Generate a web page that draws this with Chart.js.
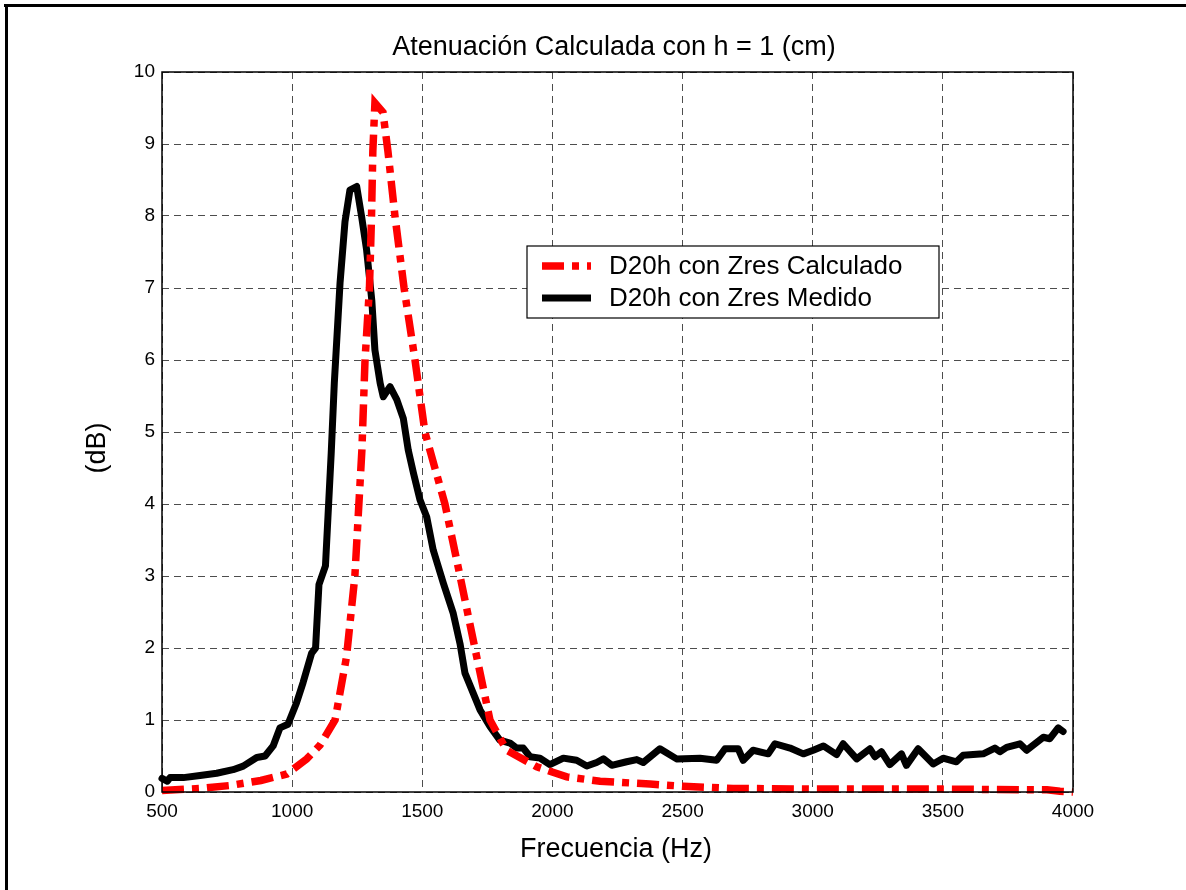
<!DOCTYPE html>
<html>
<head>
<meta charset="utf-8">
<script src="https://cdn.jsdelivr.net/npm/chart.js@4"></script>
<style>
html, body { margin: 0; padding: 0; background: #fff; }
</style>
</head>
<body>
<canvas id="myChart" width="1186" height="890"></canvas>
<script>
const chartTitle = "Atenuación Calculada con h = 1 (cm)";
const xTitle = "Frecuencia (Hz)";
const yTitle = "(dB)";
const seriesNames = ["D20h con Zres Calculado", "D20h con Zres Medido"];
const xTicks = [500, 1000, 1500, 2000, 2500, 3000, 3500, 4000];
const yTicks = [0, 1, 2, 3, 4, 5, 6, 7, 8, 9, 10];

// calculated attenuation
const freqCalc = [500, 650, 760, 880, 980, 1056, 1107, 1165, 1209, 1241, 1268, 1280, 1297, 1305, 1310, 1318, 1349, 1368, 1395, 1430, 1472, 1510, 1587, 1645, 1702, 1760, 1824, 1940, 2055, 2183, 2375, 2503, 2694, 3000, 3500, 3900, 3950, 4000];
const dbCalc = [0.02, 0.05, 0.09, 0.16, 0.25, 0.46, 0.65, 1.0, 1.88, 3.0, 4.75, 6.0, 7.0, 8.0, 8.9, 9.57, 9.44, 8.9, 8.0, 7.0, 6.0, 5.0, 4.0, 3.0, 2.0, 1.0, 0.58, 0.35, 0.21, 0.15, 0.11, 0.08, 0.05, 0.04, 0.04, 0.03, 0.01, 0.0];

// measured attenuation
const freqMed = [500, 520, 531, 582, 646, 710, 773, 812, 864, 896, 927, 953, 984, 1017, 1042, 1075, 1090, 1103, 1128, 1150, 1162, 1184, 1203, 1222, 1248, 1267, 1286, 1306, 1318, 1338, 1350, 1376, 1402, 1427, 1446, 1466, 1491, 1517, 1542, 1581, 1619, 1645, 1664, 1696, 1722, 1760, 1798, 1837, 1862, 1888, 1914, 1952, 1990, 2042, 2093, 2132, 2170, 2196, 2228, 2285, 2324, 2349, 2413, 2477, 2567, 2631, 2663, 2714, 2733, 2771, 2829, 2855, 2913, 2964, 3002, 3041, 3092, 3117, 3169, 3220, 3239, 3264, 3296, 3341, 3360, 3405, 3463, 3501, 3552, 3578, 3655, 3700, 3719, 3745, 3796, 3822, 3886, 3911, 3943, 3962];
const dbMed = [0.19, 0.15, 0.2, 0.2, 0.23, 0.26, 0.31, 0.36, 0.48, 0.5, 0.64, 0.89, 0.94, 1.24, 1.52, 1.93, 2.0, 2.88, 3.14, 4.7, 5.68, 7.07, 7.92, 8.36, 8.41, 7.99, 7.53, 6.83, 6.14, 5.68, 5.49, 5.63, 5.45, 5.19, 4.75, 4.43, 4.06, 3.82, 3.36, 2.9, 2.48, 2.06, 1.65, 1.37, 1.14, 0.91, 0.72, 0.68, 0.61, 0.61, 0.49, 0.47, 0.38, 0.47, 0.44, 0.36, 0.41, 0.46, 0.37, 0.42, 0.45, 0.41, 0.6, 0.46, 0.47, 0.44, 0.6, 0.6, 0.44, 0.58, 0.53, 0.67, 0.61, 0.53, 0.58, 0.64, 0.52, 0.67, 0.46, 0.6, 0.49, 0.56, 0.38, 0.53, 0.37, 0.6, 0.39, 0.47, 0.42, 0.51, 0.53, 0.61, 0.56, 0.62, 0.67, 0.58, 0.76, 0.74, 0.89, 0.84];

const FONT = "'Liberation Sans', Arial, sans-serif";
const ctx = document.getElementById("myChart");

function pairs(xs, ys) {
	return xs.map((x, i) => ({ x: x, y: ys[i] }));
}

// title, axis labels, frame, box and legend (matlab style)
const decor = {
	id: "decor",
	afterDatasetsDraw(chart) {
		const c = chart.ctx;
		const a = chart.chartArea;
		const ds = chart.data.datasets;
		c.save();
		// axes box
		c.strokeStyle = "#000";
		c.lineWidth = 1.5;
		c.strokeRect(a.left, a.top, a.right - a.left, a.bottom - a.top);

		// legend box
		const lx = 527, ly = 246, lw = 412, lh = 72;
		c.fillStyle = "#fff";
		c.fillRect(lx, ly, lw, lh);
		c.lineWidth = 1.2;
		c.strokeRect(lx, ly, lw, lh);
		const rows = [266, 298];
		ds.forEach((d, i) => {
			c.beginPath();
			c.strokeStyle = d.borderColor;
			c.lineWidth = d.borderWidth;
			c.setLineDash(d.borderDash || []);
			c.lineCap = "butt";
			c.moveTo(542, rows[i]);
			c.lineTo(591, rows[i]);
			c.stroke();
			c.setLineDash([]);
			c.fillStyle = "#000";
			c.font = "26px " + FONT;
			c.textAlign = "left";
			c.textBaseline = "middle";
			c.fillText(d.label, 609, rows[i] + 1);
		});

		// titles
		c.fillStyle = "#000";
		c.textAlign = "center";
		c.textBaseline = "alphabetic";
		c.font = "27px " + FONT;
		c.fillText(chartTitle, 614, 55);
		c.fillText(xTitle, 616, 857);
		c.save();
		c.translate(98, 448);
		c.rotate(-Math.PI / 2);
		c.textBaseline = "middle";
		c.fillText(yTitle, 0, 0);
		c.restore();

		// figure frame
		c.fillRect(4, 4, 1182, 3);
		c.fillRect(5, 4, 3, 886);
		c.restore();
	},
};

const attChart = new Chart(ctx, {
	type: "line",
	data: {
		datasets: [
			{
				label: seriesNames[0],
				data: pairs(freqCalc, dbCalc),
				borderColor: "#ff0000",
				borderWidth: 7.5,
				borderDash: [22, 8, 7, 8],
				borderCapStyle: "butt",
				pointRadius: 0,
				tension: 0,
				clip: 10,
			},
			{
				label: seriesNames[1],
				data: pairs(freqMed, dbMed),
				borderColor: "#000000",
				borderWidth: 7,
				borderJoinStyle: "round",
				borderCapStyle: "round",
				pointRadius: 0,
				tension: 0,
				clip: 10,
			},
		],
	},
	options: {
		responsive: false,
		devicePixelRatio: 1,
		animation: false,
		layout: { padding: { left: 0, top: 72, right: 113, bottom: 0 } },
		plugins: {
			legend: { display: false },
			title: { display: false },
			tooltip: { enabled: false },
		},
		scales: {
			x: {
				type: "linear",
				min: 500,
				max: 4000,
				afterBuildTicks: (s) => {
					s.ticks = xTicks.map((v) => ({ value: v }));
				},
				afterFit: (s) => {
					s.height = 98;
				},
				ticks: {
					callback: (v) => String(v),
					autoSkip: false,
					maxRotation: 0,
					padding: 8,
					color: "#000",
					font: { family: FONT, size: 19 },
				},
				grid: { color: "#4d4d4d", lineWidth: 1, drawTicks: false },
				border: { display: false, dash: [7, 5] },
			},
			y: {
				min: 0,
				max: 10,
				afterBuildTicks: (s) => {
					s.ticks = yTicks.map((v) => ({ value: v }));
				},
				afterFit: (s) => {
					s.width = 162;
				},
				ticks: {
					callback: (v) => String(v),
					autoSkip: false,
					padding: 7,
					color: "#000",
					font: { family: FONT, size: 19 },
				},
				grid: { color: "#4d4d4d", lineWidth: 1, drawTicks: false },
				border: { display: false, dash: [7, 5] },
			},
		},
	},
	plugins: [decor],
});
</script>
</body>
</html>
